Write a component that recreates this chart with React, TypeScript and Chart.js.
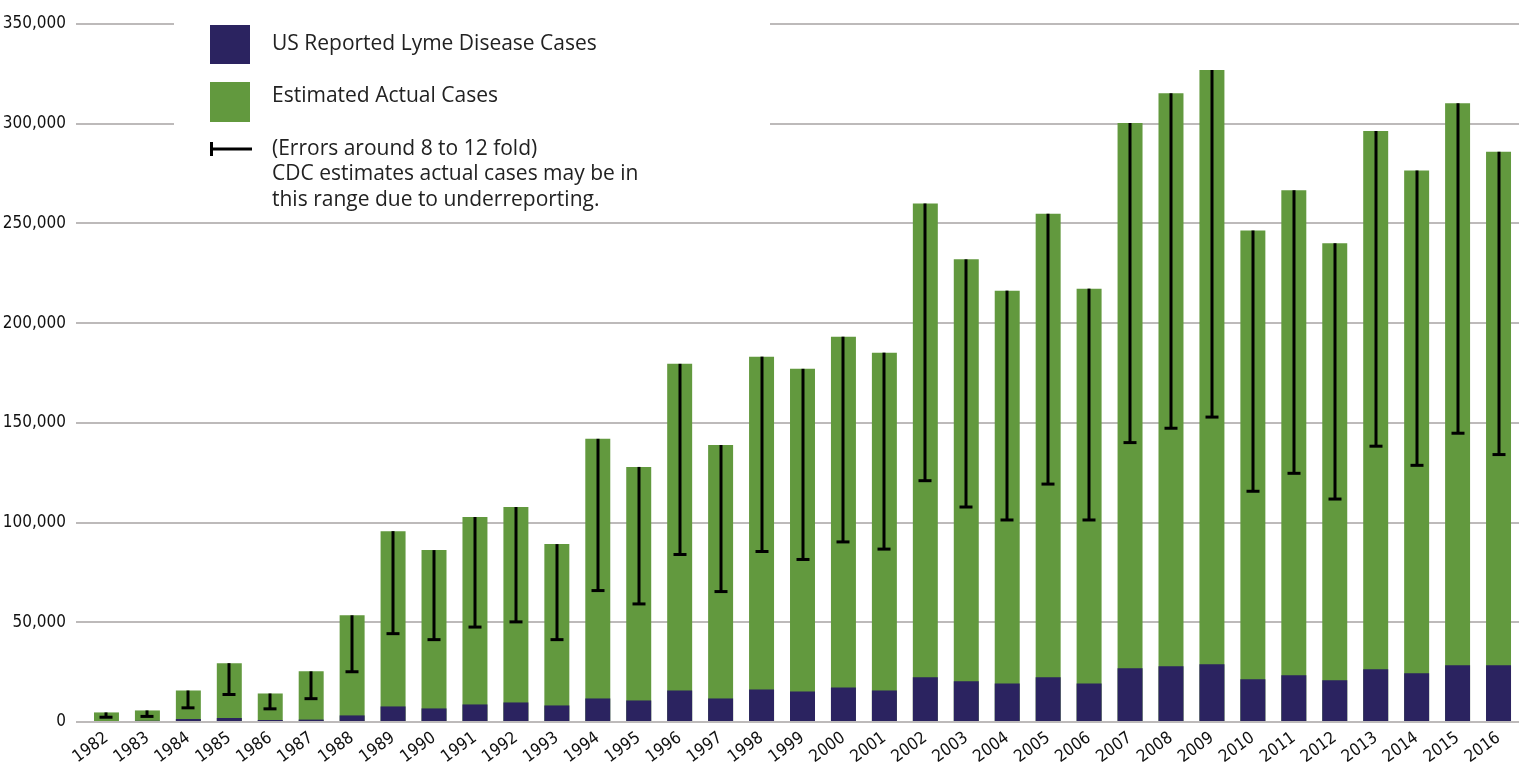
import React, { useEffect, useRef } from 'react';
import { Chart, registerables } from 'chart.js';

Chart.register(...registerables);

const years = [
  '1982', '1983', '1984', '1985', '1986', '1987', '1988', '1989', '1990', '1991',
  '1992', '1993', '1994', '1995', '1996', '1997', '1998', '1999', '2000', '2001',
  '2002', '2003', '2004', '2005', '2006', '2007', '2008', '2009', '2010', '2011',
  '2012', '2013', '2014', '2015', '2016',
];

const reportedCases = [
  500, 600, 1500, 2000, 1000, 1200, 3300, 7800, 6800, 8800,
  9800, 8300, 11800, 10800, 15800, 11800, 16300, 15300, 17300, 15800,
  22400, 20400, 19300, 22400, 19300, 26900, 27900, 28900, 21400, 23400,
  20900, 26400, 24400, 28400, 28400,
];

const estimatedCases = [
  4800, 5800, 15800, 29500, 14300, 25400, 53500, 95700, 86200, 102800,
  107800, 89200, 142000, 127900, 179600, 138900, 183200, 177100, 193200, 185200,
  260000, 232000, 216300, 254800, 217300, 300300, 315300, 326900, 246500, 266600,
  240000, 296400, 276600, 310300, 286000,
];

const errorLow = [
  2400, 2800, 7100, 13800, 6600, 11700, 25200, 44300, 41300, 47600,
  50200, 41300, 65900, 59200, 84000, 65400, 85500, 81500, 90300, 86700,
  121000, 107800, 101300, 119300, 101300, 140100, 147300, 152900, 115700, 124700,
  111800, 138300, 128700, 144800, 134100,
];

const legendLabels = ['US Reported Lyme Disease Cases', 'Estimated Actual Cases'];
const errorLegendLines = [
  '(Errors around 8 to 12 fold)',
  'CDC estimates actual cases may be in',
  'this range due to underreporting.',
];

const NAVY = '#2b2360';
const GREEN = '#62993e';
const GRID = '#bdbaba';
const LEGEND_FONT = "'Open Sans', 'Noto Sans', sans-serif";

function isAvailable(ctx: CanvasRenderingContext2D, family: string) {
  const test = '350,000 1982 abcdefghijklmnop';
  const bases = ['monospace', 'serif'];
  return bases.some((b) => {
    ctx.font = `40px ${b}`;
    const w0 = ctx.measureText(test).width;
    ctx.font = `40px "${family}", ${b}`;
    const w1 = ctx.measureText(test).width;
    return Math.abs(w0 - w1) > 0.5;
  });
}

function pickAxisFont() {
  const ctx = document.createElement('canvas').getContext('2d') as CanvasRenderingContext2D;
  const candidates = ['Liberation Sans Narrow', 'DejaVu Sans Condensed', 'Roboto Condensed', 'Roboto'];
  let family = 'DejaVu Sans';
  for (const c of candidates) {
    if (isAvailable(ctx, c)) {
      family = c;
      break;
    }
  }
  ctx.font = `100px "${family}"`;
  const w = ctx.measureText('350,000').width;
  const size = Math.max(13, Math.min(20, (63 * 100) / w));
  return { family: `"${family}"`, size: Math.round(size * 2) / 2 };
}

const errorBarPlugin = {
  id: 'errorBars',
  afterDatasetsDraw(chart: any) {
    const meta = chart.getDatasetMeta(1);
    const y = chart.scales.y;
    const ctx = chart.ctx;
    ctx.save();
    ctx.strokeStyle = '#000';
    ctx.lineWidth = 3;
    meta.data.forEach((bar: any, i: number) => {
      const x = Math.round(bar.x);
      const top = y.getPixelForValue(estimatedCases[i]);
      const low = y.getPixelForValue(errorLow[i]);
      ctx.beginPath();
      ctx.moveTo(x, top);
      ctx.lineTo(x, low);
      ctx.stroke();
      ctx.beginPath();
      ctx.moveTo(x - 6.5, low);
      ctx.lineTo(x + 6.5, low);
      ctx.stroke();
    });
    ctx.restore();
  },
};

const legendPlugin = {
  id: 'customLegend',
  beforeDatasetsDraw(chart: any) {
    const ctx = chart.ctx;
    ctx.save();
    ctx.fillStyle = '#fff';
    ctx.fillRect(174, 0, 596, 216);
    ctx.restore();
  },
  afterDraw(chart: any) {
    const ctx = chart.ctx;
    ctx.save();
    ctx.fillStyle = NAVY;
    ctx.fillRect(210, 25, 40, 39);
    ctx.fillStyle = GREEN;
    ctx.fillRect(210, 82, 40, 40);
    ctx.strokeStyle = '#000';
    ctx.lineWidth = 3;
    ctx.beginPath();
    ctx.moveTo(211.5, 142);
    ctx.lineTo(211.5, 156);
    ctx.stroke();
    ctx.beginPath();
    ctx.moveTo(210, 149);
    ctx.lineTo(252, 149);
    ctx.stroke();
    ctx.fillStyle = '#222';
    ctx.font = `21px ${LEGEND_FONT}`;
    ctx.textBaseline = 'middle';
    ctx.textAlign = 'left';
    ctx.fillText(legendLabels[0], 272, 44);
    ctx.fillText(legendLabels[1], 272, 96);
    errorLegendLines.forEach((line, i) => {
      ctx.fillText(line, 272, 149 + i * 25.5);
    });
    ctx.restore();
  },
};

export default function App() {
  const canvasRef = useRef<HTMLCanvasElement | null>(null);

  useEffect(() => {
    document.body.style.margin = '0';
    const canvas = canvasRef.current;
    if (!canvas) return;
    const axisFont = pickAxisFont();
    const chart = new Chart(canvas, {
      type: 'bar',
      data: {
        labels: years,
        datasets: [
          {
            label: legendLabels[0],
            data: reportedCases,
            backgroundColor: NAVY,
            categoryPercentage: 0.61,
            barPercentage: 1,
          },
          {
            label: legendLabels[1],
            data: estimatedCases,
            backgroundColor: GREEN,
            categoryPercentage: 0.61,
            barPercentage: 1,
          },
        ],
      },
      options: {
        animation: false,
        responsive: true,
        maintainAspectRatio: false,
        layout: { padding: { top: 24, right: 6, left: 0, bottom: 0 } },
        plugins: {
          legend: { display: false },
          tooltip: { enabled: false },
        },
        scales: {
          x: {
            stacked: true,
            grid: { display: false },
            border: { display: false },
            ticks: {
              autoSkip: false,
              maxRotation: 36,
              minRotation: 36,
              padding: -2,
              color: '#111',
              font: { family: axisFont.family, size: axisFont.size },
            },
            afterFit(scale: any) {
              scale.height = 41;
            },
          },
          y: {
            stacked: false,
            min: 0,
            max: 350000,
            border: { display: false },
            grid: {
              color: GRID,
              lineWidth: 2,
              drawTicks: true,
              tickLength: 10,
            },
            ticks: {
              stepSize: 50000,
              padding: 10,
              color: '#111',
              font: { family: axisFont.family, size: axisFont.size },
              callback: (v: any) => Number(v).toLocaleString('en-US'),
            },
            afterFit(scale: any) {
              scale.width = 86;
            },
          },
        },
      },
      plugins: [legendPlugin, errorBarPlugin],
    });
    return () => chart.destroy();
  }, []);

  return (
    <div style={{ position: 'relative', width: 1525, height: 763 }}>
      <canvas ref={canvasRef} />
    </div>
  );
}
